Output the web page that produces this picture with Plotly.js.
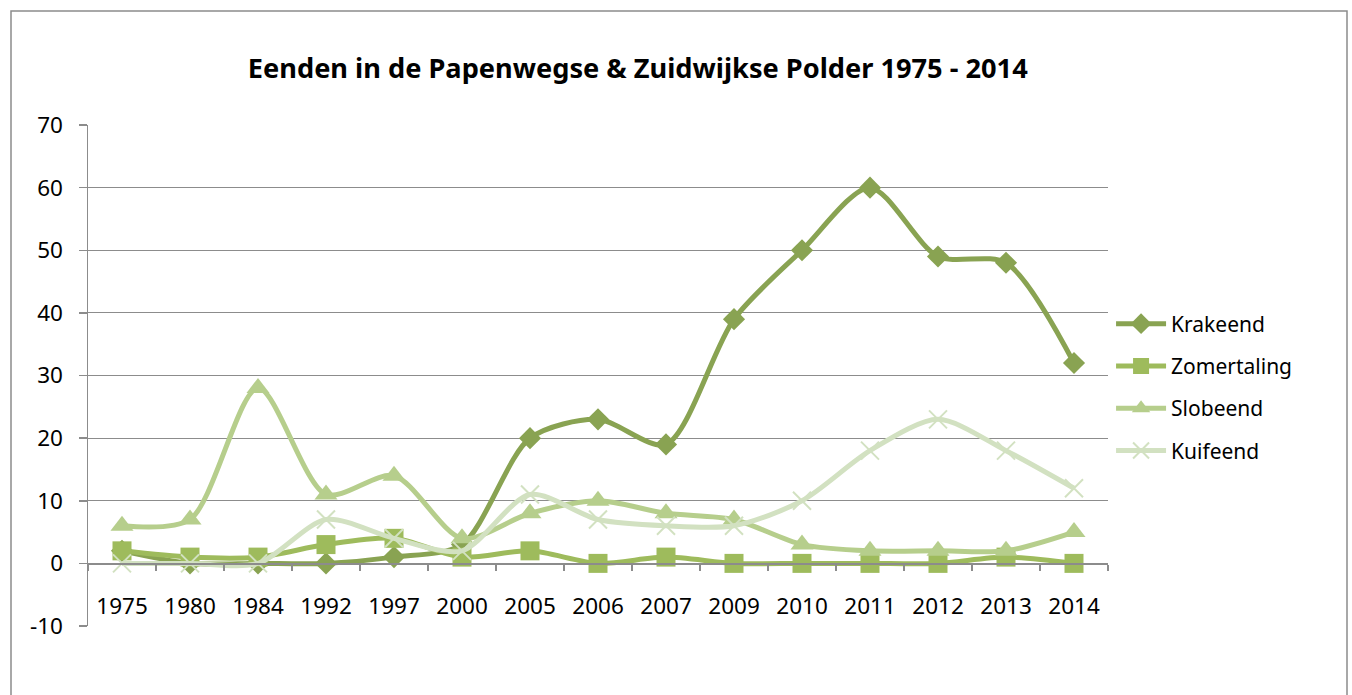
<!DOCTYPE html>
<html>
<head>
<meta charset="utf-8">
<script src="https://cdn.plot.ly/plotly-3.0.1.min.js"></script>
<style>html,body{margin:0;padding:0;background:#fff;}#chart{width:1352px;height:695px;}</style>
</head>
<body>
<div id="chart"></div>
<script>
const years = ["1975","1980","1984","1992","1997","2000","2005","2006","2007","2009","2010","2011","2012","2013","2014"];
const krakeend    = [2, 0, 0, 0, 1, 3, 20, 23, 19, 39, 50, 60, 49, 48, 32];
const zomertaling = [2, 1, 1, 3, 4, 1, 2, 0, 1, 0, 0, 0, 0, 1, 0];
const slobeend    = [6, 7, 28, 11, 14, 4, 8, 10, 8, 7, 3, 2, 2, 2, 5];
const kuifeend    = [0, 0, 0, 7, 4, 2, 11, 7, 6, 6, 10, 18, 23, 18, 12];
const yTicks = [-10, 0, 10, 20, 30, 40, 50, 60, 70];

const font = "Noto Sans, Open Sans, sans-serif";
function tr(name, y, color, symbol, size, group, extraMarker) {
  return {
    type: "scatter", mode: "lines+markers", name: name, x: years, y: y,
    legendgroup: group,
    line: {color: color, width: 5, shape: "spline", smoothing: 0.8},
    marker: Object.assign({symbol: symbol, size: size, color: color}, extraMarker || {})
  };
}
const data = [
  tr("Krakeend", krakeend, "#89A352", "diamond", 17, "a"),
  tr("Zomertaling", zomertaling, "#9EBB5C", "square", 19, "b"),
  tr("Slobeend", slobeend, "#B6CE8C", "triangle-up", 20, "c"),
  tr("Kuifeend", kuifeend, "#D2E1C1", "x-thin-open", 18, "d", {line: {color: "#D2E1C1", width: 2}})
];

const layout = {
  width: 1352, height: 695,
  margin: {l: 88, r: 244, t: 125, b: 69},
  paper_bgcolor: "#fff", plot_bgcolor: "#fff",
  font: {family: font, size: 22, color: "#000"},
  title: {text: "<b>Eenden in de Papenwegse &amp; Zuidwijkse Polder 1975 - 2014</b>",
          font: {family: font, size: 27.2, color: "#000"},
          x: 0.539, xref: "paper", xanchor: "center", y: 0.902, yref: "container", yanchor: "middle"},
  showlegend: true,
  legend: {x: 1.003, xanchor: "left", y: 0.476, yanchor: "middle",
           font: {family: font, size: 21, color: "#000"},
           traceorder: "grouped", tracegroupgap: 12, itemwidth: 50},
  xaxis: {
    type: "category", anchor: "free", position: 0.125, range: [-0.5, 14.5], autorange: false,
    showgrid: false, showline: true, linecolor: "#8c8c8c", linewidth: 1.5,
    ticks: "outside", tickson: "boundaries", ticklen: 6, tickcolor: "#8c8c8c", tickwidth: 1.5,
    ticklabelstandoff: 22,
    tickfont: {family: font, size: 22.5, color: "#000"},
    zeroline: false, fixedrange: true
  },
  yaxis: {
    range: [-10, 70], autorange: false, tickvals: yTicks, ticktext: yTicks.map(String),
    showgrid: true, gridcolor: "#8c8c8c", gridwidth: 1.2,
    showline: true, linecolor: "#8c8c8c", linewidth: 1.5,
    ticks: "outside", ticklen: 8, tickcolor: "#8c8c8c", tickwidth: 1.5,
    ticklabelstandoff: 11,
    zeroline: false, tickfont: {family: font, size: 22.5, color: "#000"}, fixedrange: true
  },
  shapes: [{
    type: "rect", xref: "paper", yref: "paper",
    x0: (11 - 88) / 1020, x1: (1347 - 88) / 1020,
    y0: (626 - 710) / 501, y1: (626 - 11) / 501,
    line: {color: "#8c8c8c", width: 1.5}, fillcolor: "rgba(0,0,0,0)", layer: "below"
  }]
};
Plotly.newPlot("chart", data, layout, {displayModeBar: false, staticPlot: true});
</script>
</body>
</html>
